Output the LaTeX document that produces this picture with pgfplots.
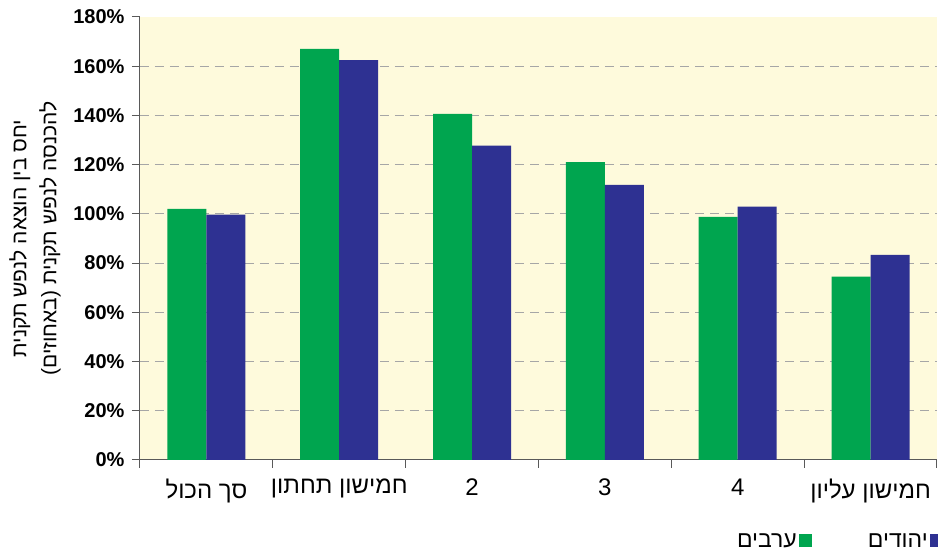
\documentclass[border=0pt]{standalone}
\usepackage{fontspec}
\setmainfont{Liberation Sans}
\newfontfamily\hebfont[Script=Hebrew]{Liberation Sans}
\TeXXeTstate=1
\usepackage{pgfplots}
\pgfplotsset{compat=1.18}
\definecolor{arabgreen}{HTML}{00A54F}
\definecolor{jewblue}{HTML}{2E3192}
\definecolor{bgyellow}{HTML}{FEFADC}
\definecolor{gridgray}{HTML}{A6A6A6}
\definecolor{axisgray}{HTML}{595959}
\begin{document}
\begin{tikzpicture}
\useasboundingbox (-140pt,-91pt) rectangle (798pt,460pt);
\begin{axis}[
  at={(0,0)}, anchor=south west,
  scale only axis, width=797pt, height=443pt,
  ybar=0pt, bar width=39pt,
  xmin=-0.5, xmax=5.5, ymin=0, ymax=180,
  axis x line*=bottom, axis y line*=left,
  axis line style={axisgray, line width=1pt, -},
  axis background/.style={fill=bgyellow},
  tick align=outside,
  xtick={0,...,5},
  xticklabels={{\hebfont\beginR סך הכול\endR}, {\hebfont\beginR חמישון תחתון\endR}, 2, 3, 4, {\hebfont\beginR חמישון עליון\endR}},
  major x tick style={draw=none},
  minor xtick={-0.5,0.5,...,5.5},
  minor x tick style={axisgray, line width=1pt},
  minor tick length=8pt,
  major tick length=8pt,
  ytick={0,20,...,160},
  extra y ticks={180},
  extra y tick style={grid=none},
  ymajorgrids,
  grid style={gridgray, line width=1pt, dash pattern=on 9pt off 6pt},
  y tick style={axisgray, line width=1pt},
  yticklabel={\pgfmathprintnumber{\tick}\%},
  /pgf/number format/assume math mode=true,
  yticklabel style={font=\fontsize{20}{22}\selectfont\bfseries, xshift=-4pt},
  xticklabel style={font=\fontsize{24}{28}\selectfont, yshift=-7pt},
  ylabel={{\hebfont\beginR יחס בין הוצאה לנפש תקנית\endR}\\{\hebfont\beginR להכנסה לנפש תקנית (באחוזים)\endR}},
  ylabel style={align=center, font=\fontsize{21}{30}\selectfont, at={(axis description cs:-0.1317,0.5)}, anchor=center},
  legend columns=2,
  legend plot pos=right,
  legend style={draw=none, fill=none, at={(axis description cs:1,0)}, anchor=east, yshift=-81pt, xshift=9pt,
    font=\fontsize{23}{26}\selectfont,
    /tikz/every even column/.append style={column sep=54pt}},
]
\addplot[fill=arabgreen, draw=none,
  legend image code/.code={\fill[arabgreen] (0pt,-6.5pt) rectangle (13pt,6.5pt);}]
  coordinates {(0,102) (1,167) (2,140.6) (3,121) (4,98.8) (5,74.5)};
\addlegendentry{\hebfont\beginR ערבים\endR}
\addplot[fill=jewblue, draw=none,
  legend image code/.code={\fill[jewblue] (0pt,-6.5pt) rectangle (13pt,6.5pt);}]
  coordinates {(0,99.7) (1,162.5) (2,127.7) (3,111.8) (4,102.9) (5,83.3)};
\addlegendentry{\hebfont\beginR יהודים\endR}
\end{axis}
\end{tikzpicture}
\end{document}
